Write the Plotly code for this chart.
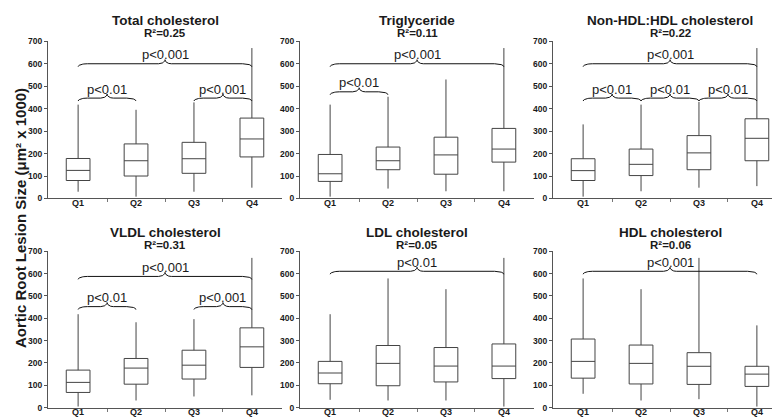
import math
import plotly.graph_objects as go

# ---------------- data ----------------
categories = ["Q1", "Q2", "Q3", "Q4"]
panel_titles = ["Total cholesterol", "Triglyceride", "Non-HDL:HDL cholesterol",
                "VLDL cholesterol", "LDL cholesterol", "HDL cholesterol"]
r_squared = ["0.25", "0.11", "0.22", "0.31", "0.05", "0.06"]

# box statistics per panel: [Q1, Q2, Q3, Q4]
total_low = [30, 8, 30, 48]
total_q1 = [80, 100, 112, 185]
total_med = [125, 168, 177, 265]
total_q3 = [178, 243, 250, 358]
total_high = [418, 395, 428, 670]

tg_low = [8, 44, 32, 32]
tg_q1 = [76, 128, 108, 162]
tg_med = [110, 168, 194, 220]
tg_q3 = [196, 229, 273, 312]
tg_high = [418, 453, 530, 670]

ratio_low = [8, 32, 48, 55]
ratio_q1 = [80, 102, 128, 168]
ratio_med = [124, 152, 203, 268]
ratio_q3 = [177, 220, 280, 355]
ratio_high = [330, 418, 430, 670]

vldl_low = [5, 32, 50, 55]
vldl_q1 = [68, 105, 128, 180]
vldl_med = [113, 177, 190, 272]
vldl_q3 = [168, 220, 257, 357]
vldl_high = [418, 382, 396, 670]

ldl_low = [35, 32, 32, 5]
ldl_q1 = [107, 98, 115, 130]
ldl_med = [155, 198, 186, 186]
ldl_q3 = [207, 278, 269, 285]
ldl_high = [418, 578, 530, 670]

hdl_low = [62, 32, 38, 5]
hdl_q1 = [132, 106, 104, 95]
hdl_med = [207, 198, 185, 150]
hdl_q3 = [307, 280, 246, 185]
hdl_high = [578, 530, 670, 368]

panels = [
    (total_low, total_q1, total_med, total_q3, total_high),
    (tg_low, tg_q1, tg_med, tg_q3, tg_high),
    (ratio_low, ratio_q1, ratio_med, ratio_q3, ratio_high),
    (vldl_low, vldl_q1, vldl_med, vldl_q3, vldl_high),
    (ldl_low, ldl_q1, ldl_med, ldl_q3, ldl_high),
    (hdl_low, hdl_q1, hdl_med, hdl_q3, hdl_high),
]

# significance brackets: (from category, to category, bracket level, label)
brackets = [
    [(0, 3, 600, "p<0.001"), (0, 1, 447, "p<0.01"), (2, 3, 447, "p<0.001")],
    [(0, 3, 600, "p<0.001"), (0, 1, 475, "p<0.01")],
    [(0, 3, 600, "p<0.001"), (0, 1, 447, "p<0.01"), (1, 2, 447, "p<0.01"), (2, 3, 447, "p<0.01")],
    [(0, 3, 587, "p<0.001"), (0, 1, 452, "p<0.01"), (2, 3, 452, "p<0.001")],
    [(0, 3, 610, "p<0.01")],
    [(0, 3, 610, "p<0.001")],
]

y_ticks = [0, 100, 200, 300, 400, 500, 600, 700]

# ---------------- layout geometry ----------------
W, H = 780, 419
x_dom_px = [(40, 274), (292, 526), (545, 779)]
y_dom_px = [(29, 190), (244, 404.3)]  # top, bottom of plot area (from top)

FONT = "Liberation Sans, Arial, sans-serif"
INK = "#1a1a1a"
LINE = "#444444"

fig = go.Figure()
annotations = []


def brace_points(x0, x1, y, up=18, drop=13, r=0.16, rc=0.11, n=12):
    xm = (x0 + x1) / 2
    xs, ys = [], []
    for i in range(n + 1):
        t = (math.pi / 2) * i / n
        xs.append(x0 + r * (1 - math.cos(t)))
        ys.append(y - drop * (1 - math.sin(t)))
    for i in range(n + 1):
        t = (math.pi / 2) * i / n
        xs.append(xm - rc + rc * math.sin(t))
        ys.append(y + up * (1 - math.cos(t)))
    for i in range(n + 1):
        t = (math.pi / 2) * i / n
        xs.append(xm + rc - rc * math.cos(t))
        ys.append(y + up * (1 - math.sin(t)))
    for i in range(n + 1):
        t = (math.pi / 2) * i / n
        xs.append(x1 - r + r * math.sin(t))
        ys.append(y - drop * (1 - math.cos(t)))
    return xs, ys


for k, (lo, q1, med, q3, hi) in enumerate(panels):
    row, col = divmod(k, 3)
    idx = k + 1
    xa = "x" if idx == 1 else f"x{idx}"
    ya = "y" if idx == 1 else f"y{idx}"
    fig.add_trace(go.Box(
        x=list(range(len(categories))), q1=q1, median=med, q3=q3,
        lowerfence=lo, upperfence=hi,
        width=0.41, whiskerwidth=0, boxpoints=False,
        fillcolor="rgba(255,255,255,0)",
        line=dict(color=LINE, width=1),
        xaxis=xa, yaxis=ya, showlegend=False, hoverinfo="skip",
    ))
    for (a, b, lvl, lab) in brackets[k]:
        bx, by = brace_points(a, b, lvl)
        fig.add_trace(go.Scatter(
            x=bx, y=by, mode="lines", line=dict(color="#111111", width=1),
            xaxis=xa, yaxis=ya, showlegend=False, hoverinfo="skip",
        ))
        annotations.append(dict(
            x=(a + b) / 2, y=lvl + 40, xref=xa, yref=ya, text=lab,
            showarrow=False, font=dict(family=FONT, size=13, color=INK),
            xanchor="center", yanchor="middle",
        ))

    x0p, x1p = x_dom_px[col]
    ytop, ybot = y_dom_px[row]
    xdom = [x0p / W, x1p / W]
    ydom = [(H - ybot) / H, (H - ytop) / H]
    fig.layout[f"xaxis{'' if idx == 1 else idx}"] = dict(
        domain=xdom, anchor=ya, range=[-0.52, 3.52],
        tickvals=list(range(len(categories))), ticktext=categories,
        ticks="", ticklabelstandoff=-4,
        showline=True, linecolor="#555555", linewidth=1,
        showgrid=False, zeroline=False, fixedrange=True,
        tickfont=dict(family=FONT, size=9, color=INK, weight="bold"),
        minor=dict(tickvals=[0.5, 1.5, 2.5], ticks="outside", ticklen=3,
                   tickcolor="#777777", showgrid=False),
    )
    fig.layout[f"yaxis{'' if idx == 1 else idx}"] = dict(
        domain=ydom, anchor=xa, range=[0, 700],
        tickvals=y_ticks, ticks="outside", ticklen=3, tickcolor="#555555",
        showline=True, linecolor="#555555", linewidth=1,
        showgrid=False, zeroline=False, fixedrange=True,
        tickfont=dict(family=FONT, size=8.5, color=INK, weight="bold"),
    )
    cx = (x0p + x1p) / 2 / W
    title_y = 7.5 if row == 0 else 225
    r2_y = 20.5 if row == 0 else 237.5
    annotations.append(dict(
        x=cx, y=(H - title_y) / H, xref="paper", yref="paper",
        text=panel_titles[k], showarrow=False, xanchor="center", yanchor="middle",
        font=dict(family=FONT, size=13.5, color=INK, weight="bold"),
    ))
    annotations.append(dict(
        x=cx, y=(H - r2_y) / H, xref="paper", yref="paper",
        text=f"R²={r_squared[k]}", showarrow=False, xanchor="center", yanchor="middle",
        font=dict(family=FONT, size=11.5, color=INK, weight="bold"),
    ))

annotations.append(dict(
    x=13 / W, y=(H - 210) / H, xref="paper", yref="paper",
    text="Aortic Root Lesion Size (μm² x 1000)", textangle=-90, showarrow=False,
    xanchor="center", yanchor="middle",
    font=dict(family=FONT, size=15, color=INK, weight="bold"),
))

fig.update_layout(
    width=W, height=H, margin=dict(l=0, r=0, t=0, b=0),
    paper_bgcolor="white", plot_bgcolor="white",
    annotations=annotations, showlegend=False,
)

fig.write_html("out.html")
